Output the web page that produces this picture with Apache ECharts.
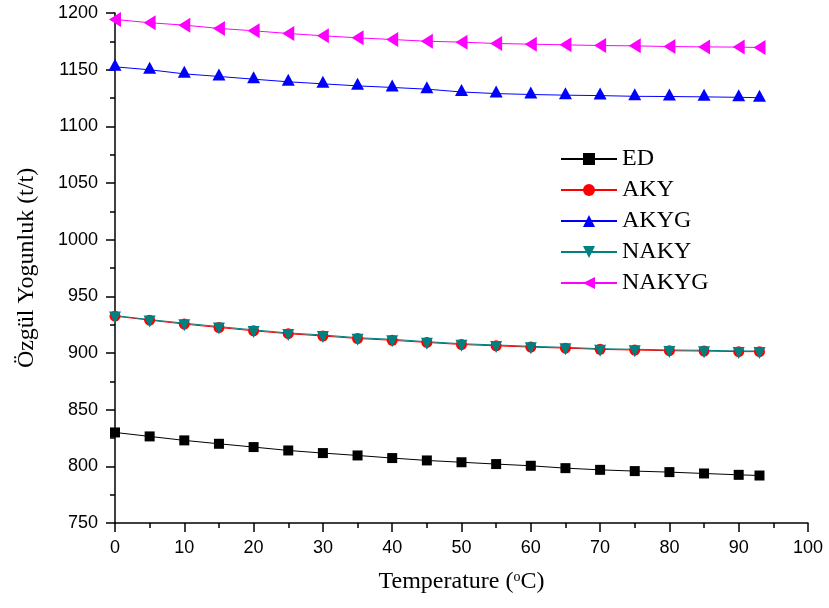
<!DOCTYPE html>
<html>
<head>
<meta charset="utf-8">
<script src="https://cdn.jsdelivr.net/npm/echarts@6/dist/echarts.min.js"></script>
<style>
html,body{margin:0;padding:0;background:#fff;}
#chart{width:829px;height:608px;}
</style>
</head>
<body>
<div id="chart"></div>
<script>
const temperatures = [0,5,10,15,20,25,30,35,40,45,50,55,60,65,70,75,80,85,90,93];
const ED    = [829.9,826.4,822.9,819.9,817.0,814.0,811.7,809.6,807.3,805.2,803.6,802.0,800.5,798.4,796.9,795.8,794.9,793.7,792.5,791.9];
const AKY   = [932.5,929.0,925.5,922.5,919.6,917.0,915.0,912.8,911.2,909.3,907.5,906.3,905.2,904.3,903.2,902.6,902.0,901.7,901.2,901.2];
const AKYG  = [1152.5,1149.9,1146.3,1144.0,1141.6,1139.3,1137.5,1135.7,1134.3,1132.8,1130.3,1128.9,1128.1,1127.5,1127.1,1126.5,1126.3,1126.0,1125.6,1125.3];
const NAKY  = [933.0,929.5,926.3,923.3,920.4,917.7,915.9,913.5,912.1,910.0,908.2,907.1,905.9,905.0,903.8,903.3,902.7,902.4,901.8,901.8];
const NAKYG = [1194.3,1191.4,1189.3,1186.4,1184.3,1181.9,1179.9,1178.1,1176.6,1175.1,1174.3,1173.1,1172.5,1171.9,1171.3,1171.0,1170.4,1170.1,1169.9,1169.6];
const xTicks = {min:0, max:100, interval:10};
const yTicks = {min:750, max:1200, interval:50};

function pairs(vals){ return temperatures.map((t,i)=>[t, vals[i]]); }

const labelFont = 'Liberation Sans, Arial, sans-serif';
const serifFont = 'Liberation Serif, Times New Roman, serif';

function mk(name, vals, color, symbol, size, offset){
  return {
    name: name, type: 'line', data: pairs(vals),
    symbol: symbol, symbolSize: size, symbolOffset: offset || [0,0],
    showSymbol: true,
    lineStyle: {color: color, width: 1},
    itemStyle: {color: color},
    emphasis: {disabled: true},
    animation: false
  };
}

const chart = echarts.init(document.getElementById('chart'));
chart.setOption({
  backgroundColor: '#fff',
  animation: false,
  grid: {left: 115, right: 21, top: 13, bottom: 85, containLabel: false},
  legend: {
    orient: 'vertical', left: 555, top: 142,
    itemWidth: 56, itemHeight: 15, itemGap: 7,
    textStyle: {fontFamily: serifFont, fontSize: 24, color: '#000'},
    data: ['ED','AKY','AKYG','NAKY','NAKYG']
  },
  xAxis: {
    type: 'value', min: xTicks.min, max: xTicks.max, interval: xTicks.interval,
    name: 'Temperature ({sup|o}C)',
    nameLocation: 'middle', nameGap: 47,
    nameTextStyle: {fontFamily: serifFont, fontSize: 24, color: '#000',
      rich: {sup: {fontFamily: serifFont, fontSize: 14, color: '#000', verticalAlign: 'top'}}},
    axisLine: {show: true, lineStyle: {color: '#000', width: 1.5}},
    axisTick: {show: true, inside: false, length: 9, lineStyle: {color: '#000', width: 1.5}},
    minorTick: {show: true, splitNumber: 2, length: 5, lineStyle: {color: '#000', width: 1.5}},
    splitLine: {show: false},
    axisLabel: {fontFamily: labelFont, fontSize: 18, color: '#000', margin: 16,
      formatter: v => String(v)}
  },
  yAxis: {
    type: 'value', min: yTicks.min, max: yTicks.max, interval: yTicks.interval,
    name: 'Özgül Yogunluk (t/t)',
    nameLocation: 'middle', nameGap: 76,
    nameTextStyle: {fontFamily: serifFont, fontSize: 24, color: '#000'},
    axisLine: {show: true, lineStyle: {color: '#000', width: 1.5}},
    axisTick: {show: true, inside: false, length: 9, lineStyle: {color: '#000', width: 1.5}},
    minorTick: {show: true, splitNumber: 2, length: 5, lineStyle: {color: '#000', width: 1.5}},
    splitLine: {show: false},
    axisLabel: {fontFamily: labelFont, fontSize: 18, color: '#000', margin: 17,
      formatter: v => String(v)}
  },
  series: [
    mk('ED', ED, '#000000', 'rect', 10),
    mk('AKY', AKY, '#FF0000', 'circle', 11),
    mk('AKYG', AKYG, '#0000FF', 'triangle', [13,12], [0,-2]),
    mk('NAKY', NAKY, '#008080', 'path://M0,0 L10,0 L5,10 Z', [12,12], [0,2]),
    mk('NAKYG', NAKYG, '#FF00FF', 'path://M10,0 L0,5 L10,10 Z', [12,15])
  ]
});
</script>
</body>
</html>
